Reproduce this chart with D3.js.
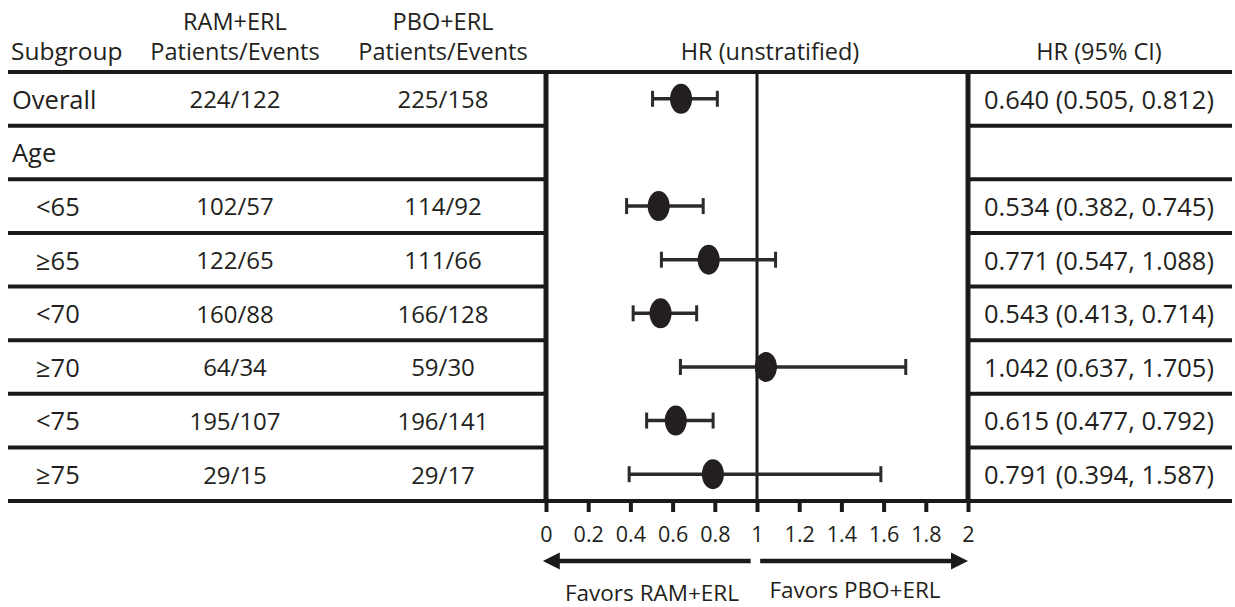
<!DOCTYPE html>
<html>
<head>
<meta charset="utf-8">
<script src="https://cdn.jsdelivr.net/npm/d3@7"></script>
<style>
html,body{margin:0;padding:0;background:#fff;}
svg{display:block;}
text{font-family:"Open Sans",sans-serif;fill:#231f20;}
</style>
</head>
<body>
<svg id="chart" width="1235" height="607"></svg>
<script>
// ---- data ----
const subgroups = ["Overall","Age","<65","\u226565","<70","\u226570","<75","\u226575"];
const indent    = [false,false,true,true,true,true,true,true];
const ramErl    = ["224/122","","102/57","122/65","160/88","64/34","195/107","29/15"];
const pboErl    = ["225/158","","114/92","111/66","166/128","59/30","196/141","29/17"];
const hr        = [0.640,null,0.534,0.771,0.543,1.042,0.615,0.791];
const ciLow     = [0.505,null,0.382,0.547,0.413,0.637,0.477,0.394];
const ciHigh    = [0.812,null,0.745,1.088,0.714,1.705,0.792,1.587];
const xTicks    = [0,0.2,0.4,0.6,0.8,1,1.2,1.4,1.6,1.8,2];
const headers   = {subgroup:"Subgroup", ram:["RAM+ERL","Patients/Events"], pbo:["PBO+ERL","Patients/Events"], plot:"HR (unstratified)", ci:"HR (95% CI)"};
const favors    = ["Favors RAM+ERL","Favors PBO+ERL"];

const svg = d3.select("#chart");
const ink = "#1a1a1a";

const x = d3.scaleLinear().domain([0,2]).range([546,968]);
const y = d3.scaleBand().domain(subgroups.map((d,i)=>i)).range([72,501]);
const yc = i => y(i) + y.bandwidth()/2;

const hfs = 23.5;

// header
svg.append("text").attr("x",11).attr("y",60).attr("font-size",24.5).text(headers.subgroup);
[[235,headers.ram],[443,headers.pbo]].forEach(([cx,lines])=>{
  svg.append("text").attr("x",cx).attr("y",30).attr("text-anchor","middle").attr("font-size",hfs).text(lines[0]);
  svg.append("text").attr("x",cx).attr("y",60).attr("text-anchor","middle").attr("font-size",hfs).text(lines[1]);
});
svg.append("text").attr("x",x(1)+13).attr("y",60).attr("text-anchor","middle").attr("font-size",hfs).text(headers.plot);
svg.append("text").attr("x",1099).attr("y",60).attr("text-anchor","middle").attr("font-size",hfs).text(headers.ci);

// horizontal lines
const hLines = [72].concat(subgroups.map((d,i)=>y(i)+y.bandwidth()));
hLines.forEach((yy,k)=>{
  if (k===0 || k===hLines.length-1) {
    svg.append("line").attr("x1",8).attr("x2",1232).attr("y1",yy).attr("y2",yy).attr("stroke",ink).attr("stroke-width",4);
  } else {
    svg.append("line").attr("x1",8).attr("x2",x(0)).attr("y1",yy).attr("y2",yy).attr("stroke",ink).attr("stroke-width",4);
    svg.append("line").attr("x1",x(2)).attr("x2",1232).attr("y1",yy).attr("y2",yy).attr("stroke",ink).attr("stroke-width",4);
  }
});

// plot borders
svg.append("line").attr("x1",x(0)).attr("x2",x(0)).attr("y1",70).attr("y2",503).attr("stroke",ink).attr("stroke-width",5);
svg.append("line").attr("x1",x(2)).attr("x2",x(2)).attr("y1",70).attr("y2",503).attr("stroke",ink).attr("stroke-width",5);
svg.append("line").attr("x1",x(1)).attr("x2",x(1)).attr("y1",72).attr("y2",503).attr("stroke",ink).attr("stroke-width",3);

// axis
const axis = d3.axisBottom(x).tickValues(xTicks).tickSize(11).tickFormat(d=>d3.format("")(+d.toFixed(1)));
const ag = svg.append("g").attr("transform","translate(0,501)").call(axis);
ag.select(".domain").remove();
ag.selectAll(".tick line").attr("stroke",ink).attr("stroke-width",4);
ag.selectAll(".tick text").attr("font-size",21.5).attr("font-family","Open Sans, sans-serif").attr("fill","#231f20").attr("y",26).attr("dy","0.71em");

// rows text
subgroups.forEach((s,i)=>{
  svg.append("text").attr("x",indent[i]?36:12).attr("y",yc(i)+1).attr("dy","0.35em").attr("font-size",25.5).text(s);
  if (ramErl[i]) svg.append("text").attr("x",235).attr("y",yc(i)+1).attr("dy","0.35em").attr("text-anchor","middle").attr("font-size",24).text(ramErl[i]);
  if (pboErl[i]) svg.append("text").attr("x",443).attr("y",yc(i)+1).attr("dy","0.35em").attr("text-anchor","middle").attr("font-size",24).text(pboErl[i]);
  if (hr[i]!=null) svg.append("text").attr("x",1099).attr("y",yc(i)+1).attr("dy","0.35em").attr("text-anchor","middle").attr("font-size",25.5)
      .text(`${hr[i].toFixed(3)} (${ciLow[i].toFixed(3)}, ${ciHigh[i].toFixed(3)})`);
});

// CI and points
const idx = subgroups.map((d,i)=>i).filter(i=>hr[i]!=null);
const g = svg.append("g");
g.selectAll("line.ci").data(idx).join("line").attr("class","ci")
  .attr("x1",i=>x(ciLow[i])).attr("x2",i=>x(ciHigh[i])).attr("y1",yc).attr("y2",yc)
  .attr("stroke","#2b2b2b").attr("stroke-width",3.5);
g.selectAll("line.capL").data(idx).join("line").attr("class","capL")
  .attr("x1",i=>x(ciLow[i])).attr("x2",i=>x(ciLow[i])).attr("y1",i=>yc(i)-8).attr("y2",i=>yc(i)+8)
  .attr("stroke","#2b2b2b").attr("stroke-width",3);
g.selectAll("line.capH").data(idx).join("line").attr("class","capH")
  .attr("x1",i=>x(ciHigh[i])).attr("x2",i=>x(ciHigh[i])).attr("y1",i=>yc(i)-8).attr("y2",i=>yc(i)+8)
  .attr("stroke","#2b2b2b").attr("stroke-width",3);
g.selectAll("ellipse").data(idx).join("ellipse")
  .attr("cx",i=>x(hr[i])).attr("cy",yc).attr("rx",11).attr("ry",15).attr("fill","#231f20");

// arrows
const ay = 561;
function arrow(x1,x2){
  const dir = Math.sign(x2-x1);
  svg.append("line").attr("x1",x1).attr("x2",x2-dir*12).attr("y1",ay).attr("y2",ay).attr("stroke",ink).attr("stroke-width",4.5);
  svg.append("path").attr("d",`M${x2},${ay} L${x2-dir*17},${ay-8.5} L${x2-dir*17},${ay+8.5} Z`).attr("fill",ink);
}
arrow(x(0.97),x(-0.015));
arrow(x(1.015),x(2));
svg.append("text").attr("x",652).attr("y",593).attr("dy","0.35em").attr("text-anchor","middle").attr("font-size",22.5).text(favors[0]);
svg.append("text").attr("x",855).attr("y",590).attr("dy","0.35em").attr("text-anchor","middle").attr("font-size",22.5).text(favors[1]);
</script>
</body>
</html>
